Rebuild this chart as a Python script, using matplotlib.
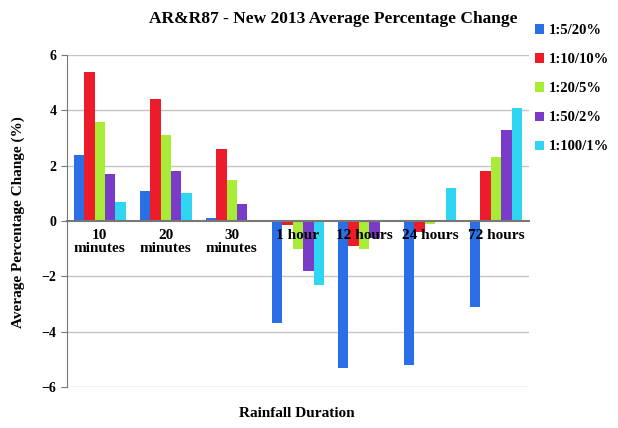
import numpy as np
from matplotlib import pyplot as plt

categories = ['10\nminutes', '20\nminutes', '30\nminutes', '1 hour', '12 hours', '24 hours', '72 hours']
series = ['1:5/20%', '1:10/10%', '1:20/5%', '1:50/2%', '1:100/1%']
v_5 = [2.4, 1.1, 0.1, -3.7, -5.3, -5.2, -3.1]
v_10 = [5.4, 4.4, 2.6, -0.15, -0.9, -0.4, 1.8]
v_20 = [3.6, 3.1, 1.5, -1.0, -1.0, -0.1, 2.3]
v_50 = [1.7, 1.8, 0.6, -1.8, -0.6, 0.05, 3.3]
v_100 = [0.7, 1.0, 0.0, -2.3, 0.0, 1.2, 4.1]
colors = ['#2a6fe6', '#ec1c2a', '#a8ec38', '#7a3cc8', '#2fd6f2']

plt.rcParams['font.family'] = ['Liberation Serif', 'DejaVu Serif']

fig = plt.figure(figsize=(6.18, 4.28), dpi=100)
ax = fig.add_axes([0.108, 0.096, 0.748, 0.775])

x = np.arange(len(categories))
w = 0.158
for i, (vals, name) in enumerate(zip([v_5, v_10, v_20, v_50, v_100], series)):
    ax.bar(x + (i - 2) * w, vals, w, color=colors[i], label=name, zorder=1)

ax.set_xlim(-0.5, len(categories) - 0.5)
ax.set_ylim(-6, 6)
ax.set_yticks([-6, -4, -2, 0, 2, 4, 6])
# grid drawn by hand so the tick labels can sit on top of the bars
for yv in [-6, -4, -2, 2, 4, 6]:
    ax.axhline(yv, color='#c4c4c4', linewidth=1, zorder=0)

ax.spines['top'].set_visible(False)
ax.spines['right'].set_visible(False)
ax.spines['bottom'].set_position(('data', 0))
ax.spines['bottom'].set_color('#777777')
ax.spines['bottom'].set_linewidth(1.5)
ax.spines['left'].set_color('#777777')

ax.set_xticks(x)
ax.set_xticklabels(categories, fontsize=11, fontweight='bold', linespacing=1.0)
ax.tick_params(axis='x', length=0, pad=6)
ax.tick_params(axis='y', labelsize=10, length=4, color='#777777')
for t in ax.get_yticklabels():
    t.set_fontweight('bold')

fig.text(0.54, 0.955, 'AR&R87 - New 2013 Average Percentage Change', ha='center', va='center',
         fontsize=12.5, fontweight='bold')
fig.text(0.03, 0.48, 'Average Percentage Change (%)', rotation=90, ha='center', va='center',
         fontsize=11, fontweight='bold')
fig.text(0.48, 0.035, 'Rainfall Duration', ha='center', va='center', fontsize=11, fontweight='bold')

ax.legend(loc='upper left', bbox_to_anchor=(0.995, 1.12), frameon=False,
          prop={'weight': 'bold', 'size': 10.5}, handlelength=0.6, handleheight=0.6,
          handletextpad=0.3, labelspacing=1.1, borderaxespad=0.2)

fig.savefig('out.png', dpi=100)
